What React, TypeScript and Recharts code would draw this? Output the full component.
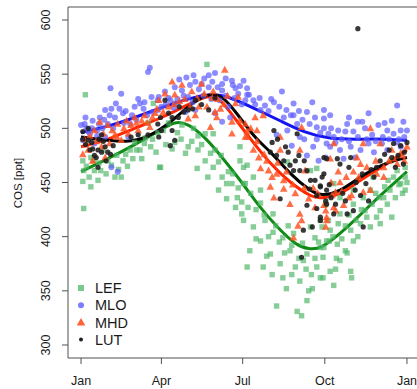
import {
  ComposedChart,
  Scatter,
  Line,
  XAxis,
  YAxis,
  ReferenceLine,
  Legend,
} from "recharts"

// day of year, COS [ppt]
const lefPoints = [
  [4.8, 531], [3, 426], [2, 470], [3, 461], [2, 451], [11, 446], [19, 452], [22, 461], [38, 455], [45, 455],
  [30, 470], [47, 470], [55, 480], [66, 480], [71, 486], [78, 483], [84, 478], [88, 464], [81, 523], [75, 505],
  [60, 487], [11, 473], [15, 461], [141, 559], [131, 493], [139, 495], [120, 483], [131, 480], [145, 477], [139, 470],
  [148, 464], [154, 469], [89, 464], [130, 463], [142, 455], [158, 455], [163, 449], [169, 449], [154, 443], [178, 470],
  [182, 464], [184, 449], [175, 436], [163, 435], [180, 432], [173, 427], [117, 477], [105, 487], [102, 481], [148, 495],
  [113, 503], [178, 483], [186, 466], [193, 455], [182, 449], [187, 427], [182, 415], [201, 431], [206, 415], [193, 409],
  [215, 404], [201, 396], [226, 399], [189, 387], [212, 384], [234, 387], [186, 372], [204, 372], [223, 375], [240, 372],
  [226, 362], [245, 359], [255, 350], [259, 352], [253, 341], [219, 336], [242, 331], [247, 327], [264, 372], [268, 362],
  [249, 378], [238, 403], [257, 409], [262, 399], [272, 390], [253, 384], [270, 409], [277, 415], [257, 461], [264, 463],
  [231, 469], [215, 421], [201, 443], [180, 421], [268, 390], [271, 381], [279, 368], [271, 362], [283, 355], [302, 368],
  [303, 362], [290, 378], [296, 387], [287, 393], [305, 396], [279, 406], [288, 412], [302, 406], [313, 412], [324, 409],
  [331, 418], [318, 424], [335, 424], [343, 430], [339, 436], [352, 436], [346, 443], [358, 449], [363, 455], [354, 461],
  [363, 464], [327, 455], [324, 443], [305, 430], [290, 436], [305, 443], [283, 449], [274, 430], [268, 415], [275, 396],
  [290, 421], [316, 436], [335, 412], [348, 418], [363, 443],
  [6, 465], [9, 455], [14, 470], [20, 468], [25, 480], [28, 458], [34, 466], [40, 475], [42, 462], [50, 476],
  [52, 465], [58, 472], [62, 480], [68, 472], [72, 491], [80, 490], [86, 496], [92, 498], [95, 485], [98, 505],
  [108, 496], [112, 490], [124, 488], [126, 500], [135, 485], [150, 480], [157, 475], [165, 460], [170, 458], [176, 445],
  [190, 440], [196, 425], [205, 420], [210, 400], [218, 410], [222, 395], [228, 385], [232, 410], [236, 392], [244, 380],
  [248, 394], [252, 370], [258, 365], [262, 380], [266, 395], [230, 352], [236, 365], [214, 365], [208, 382], [196, 398],
  [278, 396], [282, 400], [286, 380], [292, 398], [296, 410], [300, 420], [308, 415], [310, 400], [314, 425], [320, 418],
  [326, 430], [330, 440], [334, 436], [340, 446], [344, 452], [350, 455], [356, 448], [360, 440], [365, 450], [298, 385],
  [285, 370],
]

const mloPoints = [
  [77, 556], [75, 552], [33, 537], [45, 532], [39, 523], [34, 518], [27, 517], [21, 510], [13, 507], [4, 504],
  [8, 497], [30, 504], [38, 510], [47, 514], [60, 520], [66, 523], [71, 524], [64, 527], [86, 526], [79, 529],
  [86, 517], [34, 464], [41, 460], [15, 486], [27, 492], [2, 489], [53, 492], [55, 504], [0, 503], [6, 500],
  [10, 495], [18, 498], [24, 500], [118, 547], [126, 549], [143, 549], [150, 551], [169, 544], [182, 544], [128, 543],
  [135, 541], [158, 541], [173, 537], [105, 538], [113, 535], [94, 534], [87, 529], [98, 528], [120, 529], [143, 538],
  [158, 535], [176, 532], [184, 526], [158, 506], [150, 514], [167, 510], [128, 517], [105, 523], [117, 515], [165, 520],
  [188, 531], [225, 534], [238, 523], [259, 524], [206, 521], [216, 524], [186, 531], [193, 526], [201, 517], [227, 510],
  [253, 515], [272, 509], [242, 504], [231, 498], [264, 501], [245, 492], [260, 483], [253, 475], [266, 470], [236, 484],
  [219, 494], [275, 486], [277, 495], [354, 521], [322, 514], [272, 517], [279, 512], [315, 506], [348, 507], [361, 506],
  [298, 504], [333, 503], [272, 500], [288, 498], [305, 497], [343, 498], [358, 498], [365, 498], [279, 483], [290, 480],
  [302, 483], [313, 480], [328, 478], [343, 480], [358, 483], [285, 487], [322, 486], [274, 473], [294, 472], [307, 473],
  [337, 486], [354, 487],
  [110, 545], [122, 540], [132, 536], [138, 546], [147, 543], [153, 538], [162, 546], [170, 540], [178, 539], [186, 537],
  [115, 530], [108, 527], [125, 524], [137, 530], [146, 527], [155, 526], [162, 530], [172, 528], [180, 522], [5, 510],
  [12, 500], [20, 504], [26, 508], [32, 512], [43, 518], [50, 516], [57, 512], [62, 508], [70, 518], [74, 512],
  [80, 515], [90, 520], [95, 522], [100, 526], [104, 519], [18, 493], [36, 500], [48, 505], [195, 522], [200, 528],
  [210, 516], [213, 527], [222, 520], [230, 517], [235, 512], [248, 508], [256, 504], [262, 510], [268, 496], [280, 500],
  [283, 492], [292, 490], [296, 497], [300, 488], [310, 492], [318, 500], [320, 490], [326, 494], [330, 488], [338, 492],
  [345, 490], [350, 495], [356, 490], [362, 492], [340, 505], [310, 506], [300, 510], [264, 490], [250, 490], [238, 512],
  [244, 516],
]

const mhdPoints = [
  [21, 506], [15, 498], [30, 503], [41, 504], [51, 507], [60, 510], [71, 512], [83, 514], [8, 480], [23, 483],
  [32, 486], [45, 489], [64, 498], [77, 501], [38, 494], [53, 495], [13, 470], [27, 473], [2, 476], [5, 485],
  [161, 554], [102, 543], [113, 540], [135, 541], [94, 532], [105, 531], [124, 534], [148, 534], [176, 529], [173, 523],
  [141, 520], [132, 520], [150, 515], [156, 518], [169, 506], [184, 504], [128, 512], [120, 509], [145, 501], [169, 495],
  [184, 492], [186, 497], [152, 510], [87, 526], [178, 507], [186, 492], [195, 510], [204, 512], [247, 501], [223, 492],
  [245, 480], [193, 480], [199, 473], [201, 463], [210, 461], [223, 480], [214, 455], [219, 458], [227, 452], [212, 446],
  [227, 444], [216, 436], [234, 430], [251, 461], [245, 421], [247, 415], [243, 410], [238, 399], [275, 418], [274, 409],
  [262, 427], [197, 498], [324, 500], [283, 486], [316, 486], [335, 486], [279, 472], [309, 473], [313, 467], [348, 480],
  [358, 477], [365, 483], [320, 464], [339, 464], [354, 467], [331, 458], [339, 455], [311, 455], [290, 450], [285, 441],
  [303, 438], [316, 441], [324, 443], [300, 436], [272, 429], [283, 427], [294, 429], [275, 415], [274, 424], [285, 424],
  [4, 490], [10, 493], [17, 488], [25, 495], [35, 498], [40, 492], [48, 500], [56, 503], [62, 505], [68, 507],
  [74, 505], [80, 510], [85, 518], [92, 515], [98, 520], [104, 522], [110, 525], [116, 527], [122, 520], [130, 528],
  [138, 532], [147, 528], [153, 527], [160, 522], [164, 530], [190, 500], [197, 488], [205, 476], [208, 470], [220, 468],
  [230, 460], [237, 448], [240, 440], [250, 445], [255, 435], [260, 445], [265, 440], [280, 450], [288, 460], [297, 455],
  [305, 460], [330, 470], [345, 470], [350, 472], [360, 475], [362, 470], [292, 442], [281, 438],
]

const lutPoints = [
  [2, 497], [2, 490], [8, 489], [8, 500], [23, 494], [10, 480], [13, 481], [19, 480], [23, 478], [15, 475],
  [27, 483], [30, 478], [36, 484], [19, 464], [17, 473], [86, 504], [75, 494], [56, 492], [64, 494], [89, 510],
  [98, 514], [90, 498], [87, 492], [100, 484], [105, 489], [102, 498], [115, 515], [120, 517], [109, 510], [143, 517],
  [94, 526], [128, 526], [102, 510], [216, 498], [214, 487], [212, 478], [219, 475], [229, 483], [227, 470], [234, 466],
  [244, 475], [245, 461], [253, 461], [238, 461], [257, 452], [268, 446], [264, 438], [275, 443], [223, 435], [253, 429],
  [264, 426], [268, 418], [259, 409], [249, 406], [247, 381], [275, 472], [242, 495], [274, 433], [310, 592], [272, 473],
  [287, 472], [302, 473], [290, 467], [300, 464], [272, 458], [350, 486], [358, 484], [365, 487], [348, 473], [361, 467],
  [352, 464], [331, 464], [328, 455], [319, 449], [307, 443], [268, 447], [313, 438], [322, 433], [285, 430], [296, 433],
  [275, 430], [268, 415], [283, 421], [298, 421], [316, 409], [305, 424],
  [5, 485], [12, 487], [20, 490], [25, 488], [28, 470], [33, 476], [110, 520], [125, 518], [135, 522], [150, 528],
  [220, 490], [232, 478], [240, 470], [250, 470], [256, 444], [262, 452], [270, 455], [278, 448], [280, 436], [293, 440],
  [308, 450], [315, 458], [325, 462], [335, 470], [340, 476], [345, 480], [355, 475], [362, 478],
]

// smoothed seasonal cycles
const lefCurve = [
  [0, 460], [30, 472], [60, 485], [90, 499], [105, 505], [120, 503], [140, 490], [160, 471], [180, 450], [200, 428],
  [220, 409], [240, 394], [255, 389], [270, 391], [290, 403], [310, 418], [330, 434], [350, 449], [365, 460],
]
const mloCurve = [
  [0, 496], [30, 502], [60, 510], [90, 519], [120, 527], [145, 531], [167, 528], [195, 518], [223, 507], [250, 497],
  [279, 491], [310, 490], [340, 490], [365, 489],
]
const mhdCurve = [
  [0, 483], [30, 490], [60, 500], [90, 510], [120, 522], [141, 529], [155, 526], [167, 515], [190, 490], [212, 468],
  [235, 450], [257, 438], [270, 436], [290, 440], [313, 452], [340, 466], [365, 480],
]
const lutCurve = [
  [0, 492], [20, 490], [50, 488], [75, 493], [100, 506], [125, 523], [145, 531], [160, 527], [175, 513], [195, 492],
  [212, 478], [235, 458], [255, 444], [270, 439], [290, 443], [313, 455], [340, 467], [365, 473],
]

const monthTicks = [0, 90, 181, 273, 365]
const monthLabels = ["Jan", "Apr", "Jul", "Oct", "Jan"]
const cosTicks = [300, 350, 400, 450, 500, 550, 600]

const toRows = (pts: number[][]) => pts.map(([d, v]) => ({ d, v }))

const FONT = "'Liberation Sans', Arial, Helvetica, sans-serif"
const TEXT = "#1a1a1a"
const FRAME = "#505050"

const GREEN_PT = "#4db565"
const BLUE_PT = "#5b5bff"
const RED_PT = "#ff4f1f"
const BLACK_PT = "#1e1e1e"

const square = (p: any) => (
  <rect x={p.cx - 2.7} y={p.cy - 2.7} width={5.4} height={5.4} fill={GREEN_PT} fillOpacity={0.68} />
)
const circle = (p: any) => <circle cx={p.cx} cy={p.cy} r={3} fill={BLUE_PT} fillOpacity={0.7} />
const triangle = (p: any) => (
  <polygon
    points={`${p.cx},${p.cy - 4} ${p.cx - 3.8},${p.cy + 2.8} ${p.cx + 3.8},${p.cy + 2.8}`}
    fill={RED_PT}
    fillOpacity={0.82}
  />
)
const dot = (p: any) => <circle cx={p.cx} cy={p.cy} r={2.6} fill={BLACK_PT} fillOpacity={0.88} />

const legendItems = [
  { name: "LEF", kind: "square" },
  { name: "MLO", kind: "circle" },
  { name: "MHD", kind: "triangle" },
  { name: "LUT", kind: "dot" },
]

function LegendBox() {
  return (
    <svg width={70} height={72} style={{ display: "block" }}>
      {legendItems.map((it, i) => {
        const cy = 10 + i * 17.2
        const cx = 11
        let marker
        if (it.kind === "square") marker = <rect x={cx - 3} y={cy - 3} width={6} height={6} fill={GREEN_PT} fillOpacity={0.75} />
        else if (it.kind === "circle") marker = <circle cx={cx} cy={cy} r={3} fill={BLUE_PT} fillOpacity={0.8} />
        else if (it.kind === "triangle")
          marker = <polygon points={`${cx},${cy - 4.5} ${cx - 4.2},${cy + 3} ${cx + 4.2},${cy + 3}`} fill={RED_PT} fillOpacity={0.9} />
        else marker = <circle cx={cx} cy={cy} r={2} fill={BLACK_PT} />
        return (
          <g key={it.name}>
            {marker}
            <text x={25} y={cy + 5.2} fontSize={14.5} fontFamily={FONT} fill={TEXT}>
              {it.name}
            </text>
          </g>
        )
      })}
    </svg>
  )
}

const XTick = (props: any) => {
  const i = monthTicks.indexOf(props.payload.value)
  return (
    <text x={props.x} y={385} textAnchor="middle" fontSize={12.5} fontFamily={FONT} fill={TEXT}>
      {monthLabels[i]}
    </text>
  )
}

const YTick = (props: any) => (
  <text
    x={50}
    y={props.y}
    transform={`rotate(-90 50 ${props.y})`}
    textAnchor="middle"
    fontSize={12.5}
    fontFamily={FONT}
    fill={TEXT}
  >
    {props.payload.value}
  </text>
)

export default function App() {
  return (
    <div style={{ position: "absolute", left: 0, top: 0, width: 417, height: 389, overflow: "hidden", background: "#fff" }}>
      <ComposedChart width={425} height={389} margin={{ top: 7, right: 5, bottom: 0, left: 0 }}>
        <XAxis
          type="number"
          dataKey="d"
          domain={[-14.6, 379.6]}
          ticks={monthTicks}
          allowDataOverflow
          height={31}
          tickSize={6}
          tick={XTick}
          stroke={FRAME}
          axisLine={{ stroke: FRAME }}
          tickLine={{ stroke: FRAME }}
        />
        <YAxis
          type="number"
          domain={[288, 612]}
          ticks={cosTicks}
          allowDataOverflow
          width={68}
          tickSize={6}
          tick={YTick}
          axisLine={{ stroke: FRAME }}
          tickLine={{ stroke: FRAME }}
          label={() => (
            <text
              x={22}
              y={183}
              transform="rotate(-90 22 183)"
              textAnchor="middle"
              fontSize={11.5}
              fontFamily={FONT}
              fill={TEXT}
            >
              COS [ppt]
            </text>
          )}
        />
        <ReferenceLine y={612} stroke={FRAME} ifOverflow="visible" />
        <Scatter data={toRows(lefPoints)} dataKey="v" shape={square} isAnimationActive={false} />
        <Scatter data={toRows(mloPoints)} dataKey="v" shape={circle} isAnimationActive={false} />
        <Scatter data={toRows(mhdPoints)} dataKey="v" shape={triangle} isAnimationActive={false} />
        <Scatter data={toRows(lutPoints)} dataKey="v" shape={dot} isAnimationActive={false} />
        <Line data={toRows(lefCurve)} dataKey="v" type="natural" stroke="#0f8a14" strokeWidth={3} dot={false} isAnimationActive={false} />
        <Line data={toRows(mloCurve)} dataKey="v" type="natural" stroke="#1414f0" strokeWidth={3} dot={false} isAnimationActive={false} />
        <Line data={toRows(mhdCurve)} dataKey="v" type="natural" stroke="#ff2600" strokeWidth={3} dot={false} isAnimationActive={false} />
        <Line data={toRows(lutCurve)} dataKey="v" type="natural" stroke="#000000" strokeWidth={3} dot={false} isAnimationActive={false} />
        <Legend
          layout="horizontal"
          verticalAlign="middle"
          align="center"
          content={() => <LegendBox />}
          wrapperStyle={{ left: 70, top: 278, width: 70, height: 72 }}
        />
      </ComposedChart>
    </div>
  )
}
